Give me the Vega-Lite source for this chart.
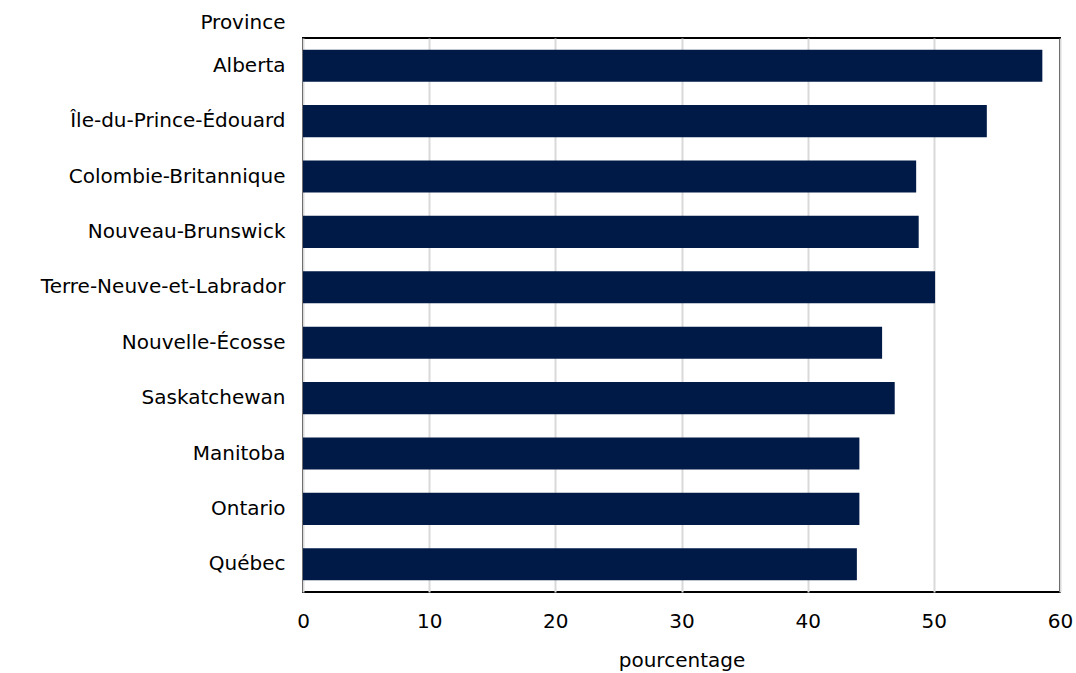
{
  "$schema": "https://vega.github.io/schema/vega-lite/v6.json",
  "autosize": {"type": "none"},
  "width": 757,
  "height": 554,
  "padding": {"left": 303, "top": 38, "right": 16, "bottom": 81},
  "background": "white",
  "config": {
    "view": {"stroke": "#000000", "strokeWidth": 2},
    "font": "DejaVu Sans"
  },
  "data": {
    "values": [
      {"province": "Alberta", "pct": 58.6},
      {"province": "Île-du-Prince-Édouard", "pct": 54.2},
      {"province": "Colombie-Britannique", "pct": 48.6},
      {"province": "Nouveau-Brunswick", "pct": 48.8},
      {"province": "Terre-Neuve-et-Labrador", "pct": 50.1},
      {"province": "Nouvelle-Écosse", "pct": 45.9},
      {"province": "Saskatchewan", "pct": 46.9},
      {"province": "Manitoba", "pct": 44.1},
      {"province": "Ontario", "pct": 44.1},
      {"province": "Québec", "pct": 43.9}
    ]
  },
  "mark": {"type": "bar", "color": "#001a47"},
  "encoding": {
    "y": {
      "field": "province",
      "type": "nominal",
      "sort": null,
      "scale": {"paddingInner": 0.42, "paddingOuter": 0.21},
      "axis": {
        "title": "Province",
        "titleAngle": 0,
        "titleAlign": "right",
        "titleBaseline": "middle",
        "titleX": -18,
        "titleY": -16,
        "titleFont": "DejaVu Sans",
        "titleFontSize": 20,
        "titleFontWeight": "normal",
        "titleColor": "#000000",
        "labelFont": "DejaVu Sans",
        "labelFontSize": 20,
        "labelColor": "#000000",
        "labelPadding": 18,
        "labelLimit": 320,
        "ticks": false,
        "domain": false,
        "grid": false
      }
    },
    "x": {
      "field": "pct",
      "type": "quantitative",
      "scale": {"domain": [0, 60], "nice": false},
      "axis": {
        "title": "pourcentage",
        "values": [0, 10, 20, 30, 40, 50, 60],
        "titleFont": "DejaVu Sans",
        "titleFontSize": 20,
        "titleFontWeight": "normal",
        "titleColor": "#000000",
        "titlePadding": 19,
        "labelFont": "DejaVu Sans",
        "labelFontSize": 20,
        "labelColor": "#000000",
        "labelPadding": 19,
        "labelFlush": false,
        "ticks": false,
        "domain": false,
        "grid": true,
        "gridColor": "#d9d9d9",
        "gridWidth": 2
      }
    }
  }
}
